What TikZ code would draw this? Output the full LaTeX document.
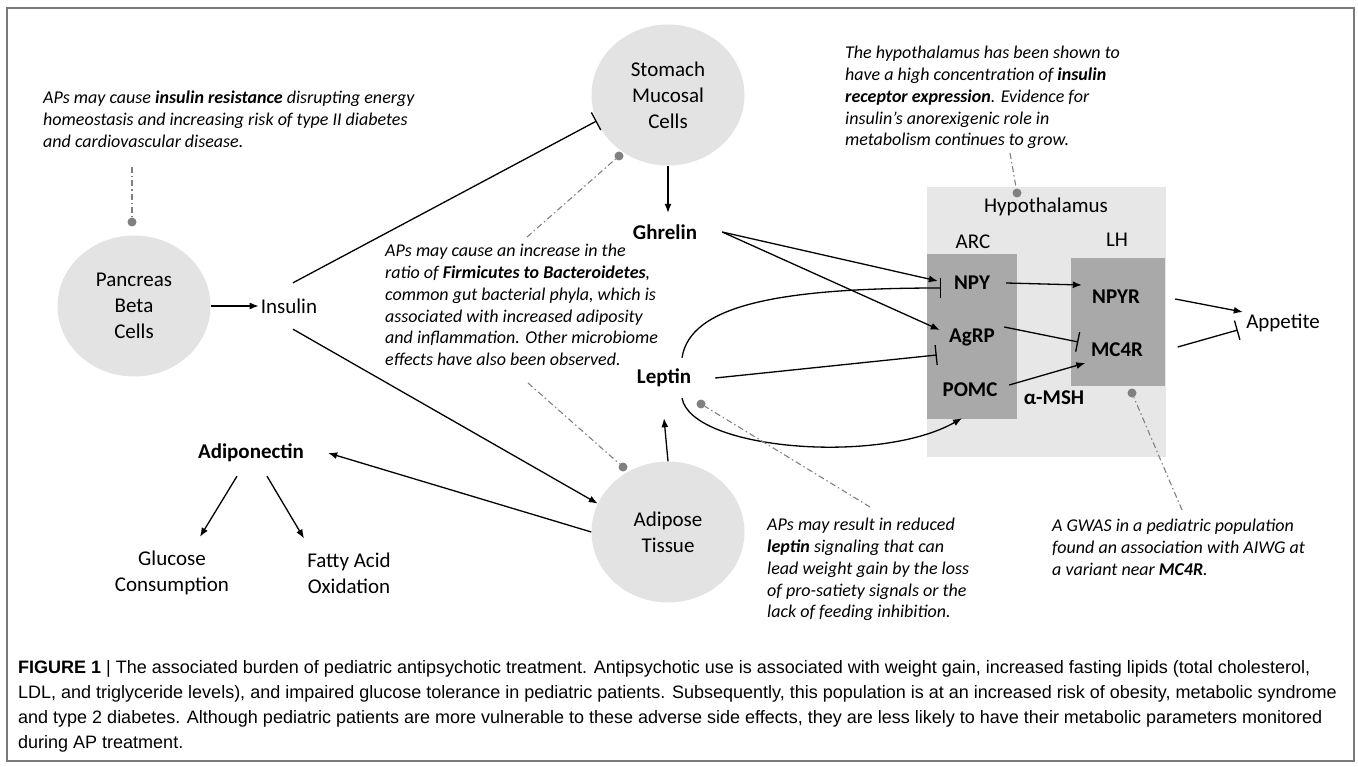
\documentclass[tikz,border=0pt]{standalone}
\usepackage{fontspec}
\setmainfont{Carlito}
\newfontfamily\capfont{Liberation Sans}
\usetikzlibrary{arrows.meta,shapes.geometric}
\definecolor{cfill}{HTML}{E3E3E3}
\definecolor{hfill}{HTML}{E7E7E7}
\definecolor{bfill}{HTML}{A9A9A9}
\definecolor{anncol}{HTML}{808080}
\definecolor{frm}{HTML}{7A7A7A}
\tikzset{
 lbl/.style={font=\fontsize{21}{26}\selectfont, align=center, inner sep=2pt},
 blbl/.style={lbl, font=\fontsize{21}{26}\selectfont\bfseries},
 cell/.style={ellipse, fill=cfill, draw=none, minimum width=153pt, minimum height=141pt, lbl},
 note/.style={anchor=north west, inner sep=0pt, align=left, font=\fontsize{18}{21.8}\selectfont\itshape},
 con/.style={line width=1.3pt, black},
 act/.style={con, -{Latex[length=9pt,width=7pt]}},
 inh/.style={con, -{Bar[width=20pt,line width=1.3pt]}},
 dotnode/.style={circle, fill=anncol, inner sep=0pt, minimum size=9pt},
 dd/.style={anncol, line width=1.1pt, dash pattern=on 6pt off 3pt on 1.5pt off 3pt},
 hbox/.style={inner sep=0pt, draw=none},
}
\begin{document}
\begin{tikzpicture}[x=1pt,y=-1pt]
\useasboundingbox (0,0) rectangle (1358,767);
\node[draw=frm, line width=1.5pt, minimum width=1347pt, minimum height=753pt, inner sep=0pt] (frame) at (680.5,384.5) {};

% hypothalamus boxes
\node[hbox, fill=hfill, minimum width=239pt, minimum height=270pt] (hyp) at (1046.5,322) {};
\node[hbox, fill=bfill, minimum width=90pt, minimum height=165pt] (arcbox) at (972,336.5) {};
\node[hbox, fill=bfill, minimum width=94pt, minimum height=128pt] (lhbox) at (1118,322) {};
\node[lbl] (hyptxt) at (1046,207) {Hypothalamus};
\node[lbl] (arc) at (973,242) {ARC};
\node[lbl] (lh) at (1117,240) {LH};
\node[blbl, minimum width=68pt] (npy) at (972,283) {NPY};
\node[blbl, minimum width=64pt] (agrp) at (972,337) {AgRP};
\node[blbl, minimum width=60pt, minimum height=56pt] (pomc) at (970,390) {POMC};
\node[blbl, minimum width=54pt] (npyr) at (1116,297) {NPYR};
\node[blbl, minimum width=57pt] (mc4r) at (1117,350) {MC4R};
\node[blbl] (amsh) at (1054,398) {α-MSH};
\node[lbl, minimum width=80pt] (app) at (1283,323) {Appetite};

% cells and molecules
\node[cell] (pan) at (134,306) {Pancreas\\Beta\\Cells};
\node[lbl, minimum height=46pt] (ins) at (289,306) {Insulin};
\node[cell] (sto) at (668,95) {Stomach\\Mucosal\\Cells};
\node[blbl, minimum width=114pt, minimum height=38pt] (ghr) at (665,232) {Ghrelin};
\node[blbl, minimum width=102pt, minimum height=40pt] (lep) at (664,378) {Leptin};
\node[cell] (adi) at (668,532) {Adipose\\Tissue};
\node[blbl, minimum width=154pt, minimum height=46pt] (adn) at (251,453) {Adiponectin};
\node[lbl] (glu) at (172,573) {Glucose\\Consumption};
\node[lbl] (fat) at (349,573) {Fatty Acid\\Oxidation};

% connectors
\draw[act] (pan.east) -- (ins.west);
\draw[inh] ([xshift=4pt]ins.north) -- (sto.200);
\draw[act] ([xshift=4pt]ins.south) -- (adi.158);
\draw[act] (sto.south) -- ([xshift=3pt]ghr.north);
\draw[act] (ghr.east) -- ([yshift=2pt]npy.west);
\draw[act] (ghr.east) -- ([yshift=7pt]agrp.west);
\draw[inh] ([xshift=18pt]lep.north) .. controls (690,305) and (780,288) .. ([xshift=3pt,yshift=-5pt]npy.west);
\draw[inh] (lep.east) -- ([xshift=-3pt,yshift=-18pt]agrp.west);
\draw[act] ([xshift=18pt]lep.south) .. controls (692,450) and (880,465) .. ([xshift=-8pt]pomc.south);
\draw[act] (adi.north) -- ([yshift=-20pt]lep.south);
\draw[act] (adi.west) -- (adn.east);
\draw[act] ([xshift=-14pt]adn.south) -- ([xshift=28pt,yshift=12pt]glu.north);
\draw[act] ([xshift=16pt]adn.south) -- ([xshift=-45pt,yshift=12pt]fat.north);
\draw[act] (npy.east) -- ([xshift=-7pt,yshift=12pt]npyr.west);
\draw[inh] ([yshift=10pt]agrp.east) -- ([xshift=-10pt,yshift=8pt]mc4r.west);
\draw[act] ([xshift=9pt,yshift=5pt]pomc.east) -- ([xshift=-3pt,yshift=-13pt]mc4r.west);
\draw[act] ([xshift=32pt,yshift=-2pt]npyr.east) -- ([yshift=11pt]app.west);
\draw[inh] ([xshift=32pt,yshift=3pt]mc4r.east) -- ([xshift=-5pt,yshift=-7pt]app.west);

% annotations
\node[note] (n1) at (43,91) {APs may cause \textbf{insulin resistance} disrupting energy\\homeostasis and increasing risk of type II diabetes\\and cardiovascular disease.};
\node[note] (n2) at (385,244) {APs may cause an increase in the\\ratio of \textbf{Firmicutes to Bacteroidetes},\\common gut bacterial phyla, which is\\associated with increased adiposity\\and inflammation. Other microbiome\\effects have also been observed.};
\node[note] (n3) at (845,46) {The hypothalamus has been shown to\\have a high concentration of \textbf{insulin}\\\textbf{receptor expression}. Evidence for\\insulin’s anorexigenic role in\\metabolism continues to grow.};
\node[note] (n4) at (767,518) {APs may result in reduced\\\textbf{leptin} signaling that can\\lead weight gain by the loss\\of pro-satiety signals or the\\lack of feeding inhibition.};
\node[note] (n5) at (1052,519) {A GWAS in a pediatric population\\found an association with AIWG at\\a variant near \textbf{MC4R}.};

\node[dotnode] (d1) at (132,222) {};
\coordinate (e1) at (132,167);
\node[dotnode] (d2) at (619,156) {};
\coordinate (e2) at (527,237);
\node[dotnode] (d3) at (623,467) {};
\coordinate (e3) at (528,383);
\node[dotnode] (d4) at (1017,193) {};
\coordinate (e4) at (1010,153);
\node[dotnode] (d5) at (701,404) {};
\coordinate (e5) at (870,507);
\node[dotnode] (d6) at (1132,393) {};
\coordinate (e6) at (1182,510);
\draw[dd] (e1) -- (d1);
\draw[dd] (e2) -- (d2);
\draw[dd] (e3) -- (d3);
\draw[dd] (e4) -- (d4);
\draw[dd] (e5) -- (d5);
\draw[dd] (e6) -- (d6);

% caption
\node[anchor=north west, inner sep=0pt, align=left, font=\capfont\fontsize{18}{25}\selectfont] (cap) at (18,660) {\textbf{FIGURE 1} | The associated burden of pediatric antipsychotic treatment. Antipsychotic use is associated with weight gain, increased fasting lipids (total cholesterol,\\LDL, and triglyceride levels), and impaired glucose tolerance in pediatric patients. Subsequently, this population is at an increased risk of obesity, metabolic syndrome\\and type 2 diabetes. Although pediatric patients are more vulnerable to these adverse side effects, they are less likely to have their metabolic parameters monitored\\during AP treatment.};
\end{tikzpicture}
\end{document}
